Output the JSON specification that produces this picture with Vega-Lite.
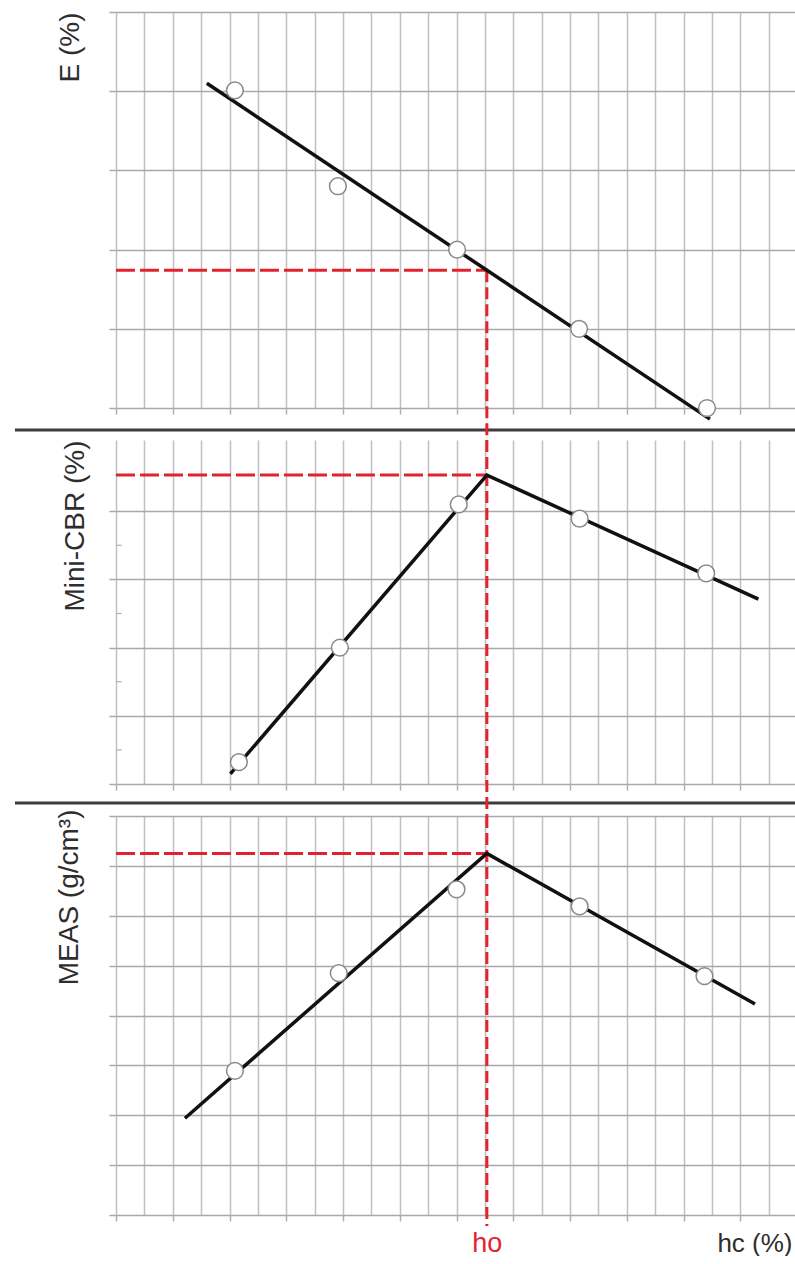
{
  "$schema": "https://vega.github.io/schema/vega-lite/v6.json",
  "padding": {"left": 13, "top": 11, "right": 0, "bottom": 0},
  "background": "white",
  "bounds": "flush",
  "spacing": 32,
  "config": {
    "view": {"stroke": null},
    "axis": {
      "domain": false,
      "labels": false,
      "grid": true,
      "gridWidth": 1.5,
      "tickWidth": 1.5,
      "titleFont": "Liberation Sans",
      "titleFontSize": 28,
      "titleFontWeight": "normal",
      "titleColor": "#2e2e2e",
      "labelFont": "Liberation Sans"
    },
    "axisX": {"gridColor": "#c0c0c0", "tickColor": "#b0b0b0"},
    "axisY": {"gridColor": "#a9a9a9", "tickColor": "#a9a9a9"}
  },
  "datasets": {
    "e_points": [
      {"x": 4.19, "y": 4.01},
      {"x": 7.82, "y": 2.8},
      {"x": 12.02, "y": 2.0},
      {"x": 16.32, "y": 1.0},
      {"x": 20.83, "y": 0.0}
    ],
    "e_fit": [
      {"x": 3.2, "y": 4.1},
      {"x": 20.93, "y": -0.14}
    ],
    "e_refh": [{"x": 0, "x2": 13.07, "y": 1.74}],
    "e_refv": [{"x": 13.07, "y": 1.74, "y2": -0.404}],
    "e_sep": [{"x": -3.56, "x2": 24, "y": -0.278}],
    "m_points": [
      {"x": 4.33, "y": 0.32},
      {"x": 7.89, "y": 2.0},
      {"x": 12.08, "y": 4.1},
      {"x": 16.34, "y": 3.89},
      {"x": 20.8, "y": 3.09}
    ],
    "m_fit": [
      {"x": 4.03, "y": 0.15},
      {"x": 13.07, "y": 4.53},
      {"x": 22.64, "y": 2.71}
    ],
    "m_refh": [{"x": 0, "x2": 13.07, "y": 4.53}],
    "m_refv": [{"x": 13.07, "y": 5.044, "y2": -0.469}],
    "m_sep": [{"x": -3.56, "x2": 24, "y": -0.279}],
    "m_minor": [
      {"x": 0, "x2": 0.2, "y": 0.5},
      {"x": 0, "x2": 0.2, "y": 1.5},
      {"x": 0, "x2": 0.2, "y": 2.5},
      {"x": 0, "x2": 0.2, "y": 3.5}
    ],
    "b_points": [
      {"x": 4.19, "y": 2.89},
      {"x": 7.85, "y": 4.85},
      {"x": 12.0, "y": 6.53},
      {"x": 16.34, "y": 6.19},
      {"x": 20.74, "y": 4.79}
    ],
    "b_fit": [
      {"x": 2.43, "y": 1.94},
      {"x": 13.07, "y": 7.25},
      {"x": 22.52, "y": 4.23}
    ],
    "b_refh": [{"x": 0, "x2": 13.07, "y": 7.25}],
    "b_refv": [{"x": 13.07, "y": 8, "y2": -0.22}]
  },
  "vconcat": [
    {
      "width": 681,
      "height": 396,
      "encoding": {
        "x": {
          "field": "x", "type": "quantitative",
          "scale": {"domain": [0, 24]},
          "axis": {
            "title": null,
            "values": [0,1,2,3,4,5,6,7,8,9,10,11,12,13,14,15,16,17,18,19,20,21,22,23,24],
            "tickSize": 6,
            "tickOpacity": {"condition": {"test": "datum.value % 2 === 0", "value": 1}, "value": 0}
          }
        },
        "y": {
          "field": "y", "type": "quantitative",
          "scale": {"domain": [0, 5]},
          "axis": {"title": "E (%)", "values": [0,1,2,3,4,5], "tickSize": 7, "titleAnchor": "end", "titlePadding": 24}
        }
      },
      "layer": [
        {"data": {"name": "e_sep"}, "mark": {"type": "rule", "color": "#3d3d3d", "strokeWidth": 3}, "encoding": {"x2": {"field": "x2"}}},
        {"data": {"name": "e_refh"}, "mark": {"type": "rule", "color": "#e3222f", "strokeWidth": 3, "strokeDash": [19, 5]}, "encoding": {"x2": {"field": "x2"}}},
        {"data": {"name": "e_refv"}, "mark": {"type": "rule", "color": "#e3222f", "strokeWidth": 3, "strokeDash": [12, 5]}, "encoding": {"y2": {"field": "y2"}}},
        {"data": {"name": "e_fit"}, "mark": {"type": "line", "color": "#111111", "strokeWidth": 3.5}, "encoding": {}},
        {"data": {"name": "e_points"}, "mark": {"type": "circle", "size": 280, "fill": "white", "stroke": "#8a8a8a", "strokeWidth": 1.5, "opacity": 1}}
      ]
    },
    {
      "width": 681,
      "height": 344,
      "encoding": {
        "x": {
          "field": "x", "type": "quantitative",
          "scale": {"domain": [0, 24]},
          "axis": {
            "title": null,
            "values": [0,1,2,3,4,5,6,7,8,9,10,11,12,13,14,15,16,17,18,19,20,21,22,23,24],
            "tickSize": 6,
            "tickOpacity": {"condition": {"test": "datum.value % 2 === 0", "value": 1}, "value": 0}
          }
        },
        "y": {
          "field": "y", "type": "quantitative",
          "scale": {"domain": [0, 5.044]},
          "axis": {"title": "Mini-CBR (%)", "values": [0,1,2,3,4], "tickSize": 7, "titleAnchor": "end", "titlePadding": 19}
        }
      },
      "layer": [
        {"data": {"name": "m_sep"}, "mark": {"type": "rule", "color": "#3d3d3d", "strokeWidth": 3}, "encoding": {"x2": {"field": "x2"}}},
        {"data": {"name": "m_minor"}, "mark": {"type": "rule", "color": "#b0b0b0", "strokeWidth": 1.2}, "encoding": {"x2": {"field": "x2"}}},
        {"data": {"name": "m_refh"}, "mark": {"type": "rule", "color": "#e3222f", "strokeWidth": 3, "strokeDash": [19, 5]}, "encoding": {"x2": {"field": "x2"}}},
        {"data": {"name": "m_refv"}, "mark": {"type": "rule", "color": "#e3222f", "strokeWidth": 3, "strokeDash": [12, 5]}, "encoding": {"y2": {"field": "y2"}}},
        {"data": {"name": "m_fit"}, "mark": {"type": "line", "color": "#111111", "strokeWidth": 3.5}, "encoding": {}},
        {"data": {"name": "m_points"}, "mark": {"type": "circle", "size": 280, "fill": "white", "stroke": "#8a8a8a", "strokeWidth": 1.5, "opacity": 1}}
      ]
    },
    {
      "width": 681,
      "height": 399,
      "encoding": {
        "x": {
          "field": "x", "type": "quantitative",
          "scale": {"domain": [0, 24]},
          "axis": {
            "title": "hc (%)",
            "titleFontSize": 26,
            "titleAlign": "right",
            "titleBaseline": "alphabetic",
            "titleX": 676,
            "titleY": 36,
            "values": [0,1,2,3,4,5,6,7,8,9,10,11,12,13,14,15,16,17,18,19,20,21,22,23,24,13.07],
            "tickSize": 6,
            "labels": true,
            "labelOverlap": false,
            "labelExpr": "datum.value === 13.07 ? 'ho' : ''",
            "labelColor": "#e3222f",
            "labelFontSize": 27,
            "labelBaseline": "alphabetic",
            "labelPadding": 30,
            "tickOpacity": {"condition": {"test": "datum.value % 2 === 0", "value": 1}, "value": 0},
            "gridOpacity": {"condition": {"test": "datum.value === 13.07", "value": 0}, "value": 1}
          }
        },
        "y": {
          "field": "y", "type": "quantitative",
          "scale": {"domain": [0, 8]},
          "axis": {"title": "MEAS (g/cm³)", "values": [0,1,2,3,4,5,6,7,8], "tickSize": 7, "titleAnchor": "end", "titlePadding": 25, "titleY": -7}
        }
      },
      "layer": [
        {"data": {"name": "b_refh"}, "mark": {"type": "rule", "color": "#e3222f", "strokeWidth": 3, "strokeDash": [19, 5]}, "encoding": {"x2": {"field": "x2"}}},
        {"data": {"name": "b_refv"}, "mark": {"type": "rule", "color": "#e3222f", "strokeWidth": 3, "strokeDash": [12, 5]}, "encoding": {"y2": {"field": "y2"}}},
        {"data": {"name": "b_fit"}, "mark": {"type": "line", "color": "#111111", "strokeWidth": 3.5}, "encoding": {}},
        {"data": {"name": "b_points"}, "mark": {"type": "circle", "size": 280, "fill": "white", "stroke": "#8a8a8a", "strokeWidth": 1.5, "opacity": 1}}
      ]
    }
  ]
}
